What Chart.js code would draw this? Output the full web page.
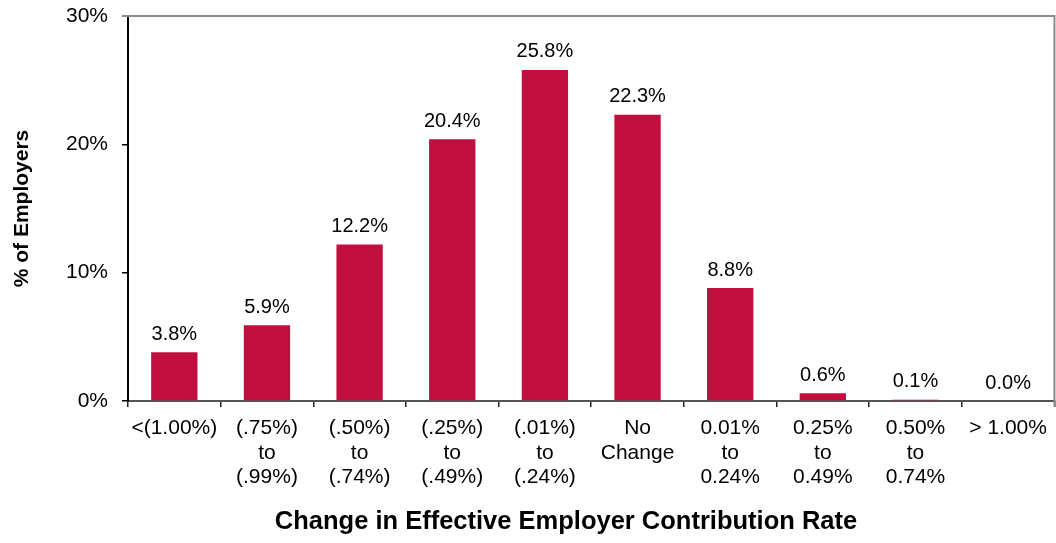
<!DOCTYPE html>
<html>
<head>
<meta charset="utf-8">
<script src="https://cdn.jsdelivr.net/npm/chart.js@4/dist/chart.umd.min.js"></script>
<style>
    html, body { margin: 0; padding: 0; background: #fff; }
    #wrap { width: 1056px; height: 543px; position: relative; }
</style>
</head>
<body>
<div id="wrap"><canvas id="cambioTasa"></canvas></div>
<script>
// Categorías (etiquetas en varias líneas) y porcentaje de empleadores
const categorias = [
    ['<(1.00%)'],
    ['(.75%)', 'to', '(.99%)'],
    ['(.50%)', 'to', '(.74%)'],
    ['(.25%)', 'to', '(.49%)'],
    ['(.01%)', 'to', '(.24%)'],
    ['No', 'Change'],
    ['0.01%', 'to', '0.24%'],
    ['0.25%', 'to', '0.49%'],
    ['0.50%', 'to', '0.74%'],
    ['> 1.00%']
];
const porcentajeEmpleadores = [3.8, 5.9, 12.2, 20.4, 25.8, 22.3, 8.8, 0.6, 0.1, 0.0];
const ticksY = [0, 10, 20, 30];

const fuente = "'Liberation Sans', Arial, sans-serif";
const colorBarra = '#C00F3E';

// Etiquetas de valor encima de cada barra
const etiquetasValor = {
    id: 'etiquetasValor',
    afterDatasetsDraw(chart) {
        const ctx = chart.ctx;
        const meta = chart.getDatasetMeta(0);
        ctx.save();
        ctx.font = '20px ' + fuente;
        ctx.fillStyle = '#000';
        ctx.textAlign = 'center';
        ctx.textBaseline = 'middle';
        meta.data.forEach((barra, i) => {
            ctx.fillText(porcentajeEmpleadores[i].toFixed(1) + '%', barra.x, barra.y - 18);
        });
        ctx.restore();
    }
};

// Borde gris superior y derecho del área de trazado, y título del eje X
const marcoYTitulo = {
    id: 'marcoYTitulo',
    afterDraw(chart) {
        const { ctx, chartArea } = chart;
        ctx.save();
        ctx.strokeStyle = '#8c8c8c';
        ctx.lineWidth = 2;
        ctx.beginPath();
        ctx.moveTo(chartArea.left - 6, chartArea.top);
        ctx.lineTo(chartArea.right, chartArea.top);
        ctx.lineTo(chartArea.right, chartArea.bottom + 6);
        ctx.stroke();

        ctx.font = 'bold 25.5px ' + fuente;
        ctx.fillStyle = '#000';
        ctx.textAlign = 'center';
        ctx.textBaseline = 'middle';
        ctx.fillText('Change in Effective Employer Contribution Rate', 566, 522);
        ctx.restore();
    }
};

const ctxCambio = document.getElementById('cambioTasa').getContext('2d');
const cambioChart = new Chart(ctxCambio, {
    type: 'bar',
    data: {
        labels: categorias,
        datasets: [{
            data: porcentajeEmpleadores,
            backgroundColor: colorBarra,
            borderWidth: 0,
            categoryPercentage: 1,
            barPercentage: 0.5
        }]
    },
    options: {
        responsive: true,
        maintainAspectRatio: false,
        animation: false,
        events: [],
        layout: {
            padding: { top: 16, right: 1, bottom: 0, left: 0 }
        },
        plugins: {
            legend: { display: false },
            tooltip: { enabled: false }
        },
        scales: {
            x: {
                afterFit(scale) { scale.height = 142; },
                grid: {
                    offset: true,
                    drawOnChartArea: false,
                    drawTicks: true,
                    tickLength: 6,
                    color: '#222',
                    lineWidth: 1.5
                },
                border: { color: '#555', width: 2 },
                ticks: {
                    color: '#000',
                    padding: 9,
                    maxRotation: 0,
                    autoSkip: false,
                    font: { family: fuente, size: 21, lineHeight: 1.17 }
                }
            },
            y: {
                min: 0,
                max: 30,
                afterFit(scale) {
                    scale.width = 128;
                    scale.paddingTop = 0;
                    scale.paddingBottom = 0;
                },
                afterBuildTicks(scale) {
                    scale.ticks = ticksY.map(v => ({ value: v }));
                },
                grid: {
                    drawOnChartArea: false,
                    drawTicks: true,
                    tickLength: 6,
                    color: '#000',
                    lineWidth: 1.5
                },
                border: { color: '#000', width: 2 },
                ticks: {
                    color: '#000',
                    padding: 14,
                    callback: v => v + '%',
                    font: { family: fuente, size: 21 }
                },
                title: {
                    display: true,
                    text: '% of Employers',
                    color: '#000',
                    padding: { top: 10, bottom: 0 },
                    font: { family: fuente, size: 21, weight: 'bold' }
                }
            }
        }
    },
    plugins: [etiquetasValor, marcoYTitulo]
});
</script>
</body>
</html>
